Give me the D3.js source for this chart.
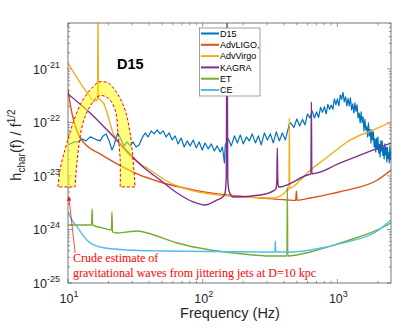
<!DOCTYPE html>
<html>
<head>
<meta charset="utf-8">
<script src="https://cdn.jsdelivr.net/npm/d3@7"></script>
<style>
  body { margin: 0; background: #fff; }
  svg { display: block; font-family: "Liberation Sans", Arial, sans-serif; }
</style>
</head>
<body>
<svg id="chart" width="406" height="328"></svg>
<script>
// ---- data ----
var xTickValues = [10, 100, 1000];
var yTickValues = [1e-25, 1e-24, 1e-23, 1e-22, 1e-21];
var xTickExp = ['1', '2', '3'];
var yTickExp = ['-25', '-24', '-23', '-22', '-21'];

var seriesNames = ['D15', 'AdvLIGO,', 'AdvVirgo', 'KAGRA', 'ET', 'CE'];
var seriesColors = ['#0072BD', '#D95319', '#EDB120', '#7E2F8E', '#77AC30', '#4DBEEE'];

var d15Freq = [10, 10.7, 11.3, 11.9, 12.7, 13.6, 14.6, 15.3, 16.4, 17.3, 18.2, 19.2, 20.2, 21.2, 22.0,
  22.7, 23.5, 24.8, 26.1, 27.5, 28.9, 30.4, 32.0, 33.7, 35.5, 37.4, 39.3, 41.4, 43.6, 45.9, 48.3,
  50.9, 53.5, 56.4, 59.3, 62.4, 65.7, 69.2, 72.9, 76.7, 80.7, 85.0, 89.5, 94.2, 99.2, 104, 110,
  116, 122, 128, 135, 140, 145, 147, 155, 163, 172, 181, 190, 200, 211, 222, 233, 246, 259, 272,
  287, 302, 318, 334, 352, 371, 390, 411, 425, 440,
  450, 475, 500, 525, 550, 575, 600, 625, 650, 675, 700, 725, 750, 775, 800, 825, 850, 875, 900,
  925, 950, 975, 1000, 1025, 1050, 1075, 1100, 1125, 1150, 1175, 1200, 1225, 1250, 1275, 1300,
  1325, 1350, 1375, 1400, 1425, 1450, 1475, 1500, 1525, 1550, 1575, 1600, 1625, 1650, 1675, 1700,
  1725, 1750, 1775, 1800, 1825, 1850, 1875, 1900, 1925, 1950, 1975, 2000, 2025, 2050, 2075, 2100,
  2125, 2150, 2175, 2200, 2225, 2250, 2275, 2300, 2325, 2350, 2375, 2400, 2425, 2450, 2475, 2500];
var d15H = [3.80e-23, 4.14e-23, 4.32e-23, 4.32e-23, 4.92e-23, 4.51e-23, 5.36e-23, 5.13e-23, 4.71e-23,
  4.51e-23, 5.60e-23, 6.10e-23, 4.51e-23, 3.06e-23, 3.80e-23, 5.13e-23, 6.36e-23, 4.71e-23, 3.64e-23,
  4.32e-23, 3.64e-23, 4.32e-23, 3.48e-23, 3.80e-23, 5.13e-23, 6.36e-23, 5.36e-23, 6.94e-23, 6.10e-23,
  7.24e-23, 6.10e-23, 6.94e-23, 5.36e-23, 6.36e-23, 4.71e-23, 5.60e-23, 3.97e-23, 5.13e-23, 3.48e-23,
  4.51e-23, 3.64e-23, 4.71e-23, 3.34e-23, 4.32e-23, 3.06e-23, 4.14e-23, 3.20e-23, 3.97e-23, 2.93e-23,
  3.64e-23, 2.81e-23, 3.48e-23, 1.75e-23, 3.80e-23, 4.92e-23, 3.64e-23, 5.60e-23, 4.14e-23, 5.84e-23,
  3.97e-23, 5.36e-23, 4.51e-23, 6.10e-23, 4.14e-23, 5.60e-23, 3.80e-23, 6.36e-23, 4.71e-23, 6.10e-23,
  4.14e-23, 6.64e-23, 4.51e-23, 6.36e-23, 4.71e-23, 6.64e-23, 9.38e-23,
  9.79e-23, 8.06e-23, 1.16e-22, 8.60e-23, 1.14e-22, 8.98e-23, 1.44e-22, 1.21e-22, 1.64e-22, 1.21e-22,
  1.57e-22, 1.24e-22, 1.91e-22, 1.54e-22, 1.95e-22, 1.44e-22, 2.17e-22, 1.75e-22, 2.12e-22, 1.75e-22,
  2.75e-22, 2.12e-22, 2.75e-22, 2.03e-22, 3.27e-22, 2.69e-22, 3.64e-22, 2.42e-22, 3.00e-22, 2.03e-22,
  2.81e-22, 2.03e-22, 2.87e-22, 1.71e-22, 2.22e-22, 1.50e-22, 2.31e-22, 1.61e-22, 2.12e-22, 1.21e-22,
  1.50e-22, 9.79e-23, 1.57e-22, 1.00e-22, 1.27e-22, 6.94e-23, 1.14e-22, 7.24e-23, 8.42e-23, 5.36e-23,
  9.79e-23, 5.60e-23, 7.40e-23, 4.14e-23, 7.24e-23, 4.71e-23, 6.64e-23, 3.48e-23, 4.92e-23, 2.81e-23,
  5.02e-23, 3.13e-23, 5.36e-23, 2.69e-23, 3.88e-23, 2.26e-23, 4.51e-23, 2.93e-23, 4.51e-23, 2.42e-23,
  3.41e-23, 2.08e-23, 3.96e-23, 2.47e-23, 3.41e-23, 1.83e-23, 3.41e-23, 2.12e-23, 2.69e-23, 1.75e-23,
  3.64e-23, 2.03e-23, 2.87e-23];

var advLigoFreq = [10, 10.5, 11.1, 12.3, 13.6, 17.3, 23.1, 32.6, 48.3, 84.9, 152, 268, 425, 490, 496, 502, 630, 1109, 1983, 2500];
var advLigoH = [4.05e-22, 1.87e-22, 1.02e-22, 5.13e-23, 3.80e-23, 2.58e-23, 1.68e-23, 1.09e-23, 7.7e-24, 5.5e-24,
  4.4e-24, 3.88e-24, 3.56e-24, 3.5e-24, 5.2e-24, 3.52e-24, 3.88e-24, 5.25e-24, 8.4e-24, 1.29e-23];

var advVirgoFreq = [10, 11.3, 12.9, 14.6, 15.3, 16.2, 16.55, 16.7, 16.85, 17.5, 18.5, 19.5, 21.6, 25.6, 32.6, 40.7,
  52.6, 64.6, 84.9, 114, 200, 334, 397, 425, 437, 440, 443, 531, 598, 843, 1250, 1852, 2500];
var advVirgoH = [1.29e-21, 7.7e-22, 4.6e-22, 3.0e-22, 2.5e-22, 2.5e-22, 2.8e-22, 1e-20, 2.8e-22, 2.6e-22, 2.2e-22,
  1.5e-22, 6.36e-23, 3.33e-23, 1.83e-23, 1.29e-23, 8.4e-24, 6.5e-24, 5.25e-24, 4.6e-24, 4.05e-24, 3.88e-24,
  4.6e-24, 5.5e-24, 5.7e-24, 1.21e-22, 5.9e-24, 8.4e-24, 1.14e-23, 2.26e-23, 4.71e-23, 7.24e-23, 1.02e-22];

var kagraFreq = [10, 14.6, 20.5, 36.1, 48.3, 64.6, 84.9, 104, 128, 140, 146, 149.5, 151.5, 153.5, 157, 169, 268,
  334, 350, 355, 358, 361, 366, 598, 636, 641, 646, 1052, 1852, 2500];
var kagraH = [3.41e-22, 1.5e-22, 6.36e-23, 1.47e-23, 8.4e-24, 4.8e-24, 3.27e-24, 2.87e-24, 3.56e-24, 4.0e-24,
  4.6e-24, 9e-24, 1e-20, 9e-24, 5.2e-24, 4.05e-24, 4.4e-24, 5.25e-24, 5.8e-24, 8e-24, 3.33e-23, 8e-24, 6.2e-24,
  1.04e-23, 1.09e-23, 2.42e-22, 1.1e-23, 1.75e-23, 3.06e-23, 4.14e-23];

var etFreq = [10, 14.6, 14.95, 15.1, 15.25, 18, 21.0, 21.2, 21.4, 23.1, 27.5, 32.6, 38.7, 64.6, 114, 200, 318, 422,
  425, 428, 630, 1109, 1983, 2500];
var etH = [1.21e-24, 1.21e-24, 1.2e-24, 2.42e-24, 1.2e-24, 1.07e-24, 9.8e-25, 2.12e-24, 8.98e-25, 8.6e-25,
  8.98e-25, 9.38e-25, 8.6e-25, 5.6e-25, 4.14e-25, 3.48e-25, 3.2e-25, 3.2e-25, 6.2e-24, 3.2e-25, 3.8e-25,
  5.84e-25, 9.8e-25, 1.32e-24];

var ceFreq = [10, 10.7, 11.7, 13.8, 17.3, 27.5, 48.3, 334, 343, 346, 349, 471, 630, 1109, 1983, 2500];
var ceH = [2.12e-24, 1.5e-24, 1.11e-24, 6.36e-25, 4.71e-25, 4.14e-25, 3.97e-25, 3.8e-25, 3.8e-25, 6.1e-25,
  3.8e-25, 3.8e-25, 4.14e-25, 5.6e-25, 9.38e-25, 1.5e-24];

// crude estimate band (arch)
var bandOuterFreq = [8.43, 8.72, 9.18, 9.83, 11.3, 12.9, 15.3, 17.0, 19.8, 23.1, 26.5, 28.9, 30.4, 31.5];
var bandOuterH = [6.23e-24, 1.29e-23, 2.26e-23, 4.14e-23, 1.27e-22, 2.63e-22, 4.61e-22, 5.71e-22, 5.47e-22,
  3.56e-22, 1.71e-22, 6.36e-23, 1.99e-23, 6.23e-24];
var bandInnerFreq = [11.3, 11.7, 12.7, 14.1, 17.0, 19.8, 22.4, 23.5, 24.4, 24.4];
var bandInnerH = [6.23e-24, 1.99e-23, 8.24e-23, 1.71e-22, 3.13e-22, 2.87e-22, 1.71e-22, 6.36e-23, 1.99e-23, 6.23e-24];

// ---- drawing ----
var plotLeft = 68, plotRight = 391, plotTop = 23, plotBottom = 283;
var axisColor = '#555';
var textColor = '#262626';

var svg = d3.select('#chart');

var x = d3.scaleLog().domain([10, 2500]).range([plotLeft, plotRight]);
var y = d3.scaleLog().domain([1e-25, 7.2e-21]).range([plotBottom, plotTop]);

var defs = svg.append('defs');
defs.append('clipPath').attr('id', 'plotClip')
  .append('rect')
  .attr('x', plotLeft).attr('y', plotTop)
  .attr('width', plotRight - plotLeft).attr('height', plotBottom - plotTop);

// minor tick values
var xMinor = [];
[10, 100, 1000].forEach(function (d) {
  for (var k = 2; k <= 9; k++) if (d * k <= 2500) xMinor.push(d * k);
});
var yMinor = [];
[1e-25, 1e-24, 1e-23, 1e-22, 1e-21].forEach(function (d) {
  for (var k = 2; k <= 9; k++) if (d * k <= 7.2e-21) yMinor.push(d * k);
});

var ticks = svg.append('g').attr('stroke', axisColor).attr('stroke-width', 0.6);

function hTicks(vals, len) {
  vals.forEach(function (v) {
    var px = x(v);
    ticks.append('line').attr('x1', px).attr('x2', px).attr('y1', plotBottom).attr('y2', plotBottom - len);
    ticks.append('line').attr('x1', px).attr('x2', px).attr('y1', plotTop).attr('y2', plotTop + len);
  });
}
function vTicks(vals, len) {
  vals.forEach(function (v) {
    var py = y(v);
    ticks.append('line').attr('y1', py).attr('y2', py).attr('x1', plotLeft).attr('x2', plotLeft + len);
    ticks.append('line').attr('y1', py).attr('y2', py).attr('x1', plotRight).attr('x2', plotRight - len);
  });
}
hTicks(xTickValues, 4);
hTicks(xMinor, 2.2);
vTicks(yTickValues, 4);
vTicks(yMinor, 2.2);

// tick labels
xTickValues.forEach(function (v, i) {
  var t = svg.append('text')
    .attr('x', x(v) + 1)
    .attr('y', plotBottom + 20)
    .attr('text-anchor', 'middle')
    .attr('fill', textColor)
    .attr('font-size', '12.5px');
  t.append('tspan').text('10');
  t.append('tspan').attr('dy', -6).attr('font-size', '9px').text(xTickExp[i]);
});
yTickValues.forEach(function (v, i) {
  var t = svg.append('text')
    .attr('x', 33)
    .attr('y', y(v) + 5)
    .attr('fill', textColor)
    .attr('font-size', '12.5px');
  t.append('tspan').text('10');
  t.append('tspan').attr('dy', -6).attr('font-size', '9px').text(yTickExp[i]);
});

// axis labels
svg.append('text')
  .attr('x', 230).attr('y', 318)
  .attr('text-anchor', 'middle')
  .attr('fill', textColor)
  .attr('font-size', '14.5px')
  .text('Frequency (Hz)');

var yl = svg.append('text')
  .attr('transform', 'translate(21,145) rotate(-90)')
  .attr('text-anchor', 'middle')
  .attr('fill', textColor)
  .attr('font-size', '14.5px');
yl.append('tspan').text('h');
yl.append('tspan').attr('dy', 4).attr('font-size', '10px').text('char');
yl.append('tspan').attr('dy', -4).text('(f) / f');
yl.append('tspan').attr('dy', -6).attr('font-size', '10px').text('1/2');

// curves
function toPoints(fs, hs) {
  return fs.map(function (f, i) { return [f, hs[i]]; });
}
var series = [
  toPoints(d15Freq, d15H),
  toPoints(advLigoFreq, advLigoH),
  toPoints(advVirgoFreq, advVirgoH),
  toPoints(kagraFreq, kagraH),
  toPoints(etFreq, etH),
  toPoints(ceFreq, ceH)
];

var smooth = d3.line()
  .x(function (d) { return x(d[0]); })
  .y(function (d) { return y(d[1]); })
  .curve(d3.curveMonotoneX);
var straight = d3.line()
  .x(function (d) { return x(d[0]); })
  .y(function (d) { return y(d[1]); });

var curves = svg.append('g').attr('clip-path', 'url(#plotClip)');
series.forEach(function (pts, i) {
  curves.append('path')
    .attr('d', i === 0 ? straight(pts) : smooth(pts))
    .attr('fill', 'none')
    .attr('stroke', seriesColors[i])
    .attr('stroke-width', i === 0 ? 1.2 : 1.4)
    .attr('stroke-linejoin', 'round');
});

// frame
svg.append('rect')
  .attr('x', plotLeft).attr('y', plotTop)
  .attr('width', plotRight - plotLeft).attr('height', plotBottom - plotTop)
  .attr('fill', 'none')
  .attr('stroke', axisColor)
  .attr('stroke-width', 0.8);

// crude estimate band
var arc = d3.line()
  .x(function (d) { return x(d[0]); })
  .y(function (d) { return y(d[1]); })
  .curve(d3.curveCatmullRom);
var outer = toPoints(bandOuterFreq, bandOuterH);
var inner = toPoints(bandInnerFreq, bandInnerH).reverse();
var bandPath = arc(outer) + arc(inner).replace(/^M/, 'L') + 'Z';

svg.append('path')
  .attr('d', bandPath)
  .attr('fill', '#ffff00')
  .attr('fill-opacity', 0.5)
  .attr('stroke', '#ff0000')
  .attr('stroke-width', 1)
  .attr('stroke-dasharray', '3,2');

// D15 panel label
svg.append('text')
  .attr('x', 117).attr('y', 69)
  .attr('font-size', '14.5px')
  .attr('font-weight', 'bold')
  .attr('fill', '#000')
  .text('D15');

// legend
var lg = svg.append('g');
lg.append('rect')
  .attr('x', 199.5).attr('y', 28)
  .attr('width', 60.5).attr('height', 68)
  .attr('fill', '#fff')
  .attr('stroke', '#888')
  .attr('stroke-width', 0.8);
seriesNames.forEach(function (name, i) {
  var ly = 33.5 + i * 11.3;
  lg.append('line')
    .attr('x1', 201).attr('x2', 219)
    .attr('y1', ly).attr('y2', ly)
    .attr('stroke', seriesColors[i])
    .attr('stroke-width', 2);
  lg.append('text')
    .attr('x', 220).attr('y', ly + 3.3)
    .attr('font-size', '9px')
    .attr('fill', '#000')
    .text(name);
});

// annotation
defs.append('marker')
  .attr('id', 'arrowHead')
  .attr('viewBox', '0 0 10 10')
  .attr('refX', 9).attr('refY', 5)
  .attr('markerWidth', 6).attr('markerHeight', 6)
  .attr('orient', 'auto')
  .append('path')
  .attr('d', 'M0,0 L10,5 L0,10 Z')
  .attr('fill', '#ff0000');

svg.append('line')
  .attr('x1', x(11.3)).attr('y1', y(3.64e-25))
  .attr('x2', x(10.15)).attr('y2', y(4.05e-24))
  .attr('stroke', '#ff0000')
  .attr('stroke-width', 0.7)
  .attr('marker-end', 'url(#arrowHead)');

var note = svg.append('g')
  .attr('font-family', '"Liberation Serif", "Times New Roman", serif')
  .attr('font-size', '12px')
  .attr('fill', '#ff0000');
note.append('text').attr('x', 73).attr('y', 262).text('Crude estimate of');
note.append('text').attr('x', 73).attr('y', 277).text('gravitational waves from jittering jets at D=10 kpc');
</script>
</body>
</html>
